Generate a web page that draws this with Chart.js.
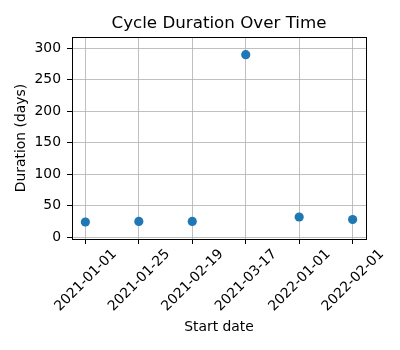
<!DOCTYPE html>
<html>
<head>
<meta charset="utf-8">
<script src="https://cdn.jsdelivr.net/npm/chart.js@4"></script>
<style>
html,body{margin:0;padding:0;background:#fff;}
#wrap{width:400px;height:350px;}
</style>
</head>
<body>
<div id="wrap"><canvas id="c" width="400" height="350"></canvas></div>
<script>
const startDates = ["2021-01-01","2021-01-25","2021-02-19","2021-03-17","2022-01-01","2022-02-01"];
const durations = [24, 25, 25, 290, 32, 28];
const yTicks = [0, 50, 100, 150, 200, 250, 300];

const FONT = "'DejaVu Sans', sans-serif";
const points = startDates.map((d, i) => ({x: i, y: durations[i]}));

const frame = {
  id: 'frame',
  afterDraw(chart) {
    const a = chart.chartArea, ctx = chart.ctx;
    ctx.save();
    ctx.strokeStyle = '#000';
    ctx.lineWidth = 1;
    ctx.strokeRect(Math.round(a.left) + 0.5, Math.round(a.top) + 0.5, Math.round(a.right - a.left), Math.round(a.bottom - a.top));
    ctx.restore();
  }
};

new Chart(document.getElementById('c'), {
  type: 'scatter',
  data: {
    datasets: [{
      data: points,
      backgroundColor: '#1f77b4',
      borderColor: '#1f77b4',
      borderWidth: 0,
      pointRadius: 4.6,
      pointHoverRadius: 4.6
    }]
  },
  plugins: [frame],
  options: {
    responsive: false,
    animation: false,
    events: [],
    layout: {padding: {left: 0, right: 34, top: 0, bottom: 0}},
    plugins: {
      legend: {display: false},
      tooltip: {enabled: false},
      title: {
        display: true,
        text: 'Cycle Duration Over Time',
        fullSize: false,
        color: '#000',
        font: {family: FONT, size: 16.7, weight: 'normal'},
        padding: {top: 14, bottom: 3}
      }
    },
    scales: {
      x: {
        type: 'linear',
        min: -0.25,
        max: 5.25,
        afterFit(s) { s.height = 111; },
        afterBuildTicks(s) { s.ticks = startDates.map((d, i) => ({value: i})); },
        grid: {color: '#b0b0b0', lineWidth: 0.8, drawTicks: true, tickLength: 5, tickColor: '#000', tickWidth: 1},
        border: {display: false},
        ticks: {
          includeBounds: false,
          stepSize: 1,
          minRotation: 45,
          maxRotation: 45,
          autoSkip: false,
          labelOffset: 29,
          padding: 2,
          color: '#000',
          font: {family: FONT, size: 13.9},
          callback: (v) => startDates[v]
        },
        title: {display: true, text: 'Start date', color: '#000', font: {family: FONT, size: 13.9}, padding: {top: 0, bottom: 14}}
      },
      y: {
        type: 'linear',
        min: -3,
        max: 318,
        afterFit(s) { s.width = 72; },
        afterBuildTicks(s) { s.ticks = yTicks.map(v => ({value: v})); },
        grid: {color: '#b0b0b0', lineWidth: 0.8, drawTicks: true, tickLength: 5, tickColor: '#000', tickWidth: 1},
        border: {display: false},
        ticks: {
          includeBounds: false,
          stepSize: 50,
          padding: 6,
          color: '#000',
          font: {family: FONT, size: 13.9}
        },
        title: {display: true, text: 'Duration (days)', color: '#000', font: {family: FONT, size: 13.9}, padding: {top: 13, bottom: 0}}
      }
    }
  }
});
</script>
</body>
</html>
